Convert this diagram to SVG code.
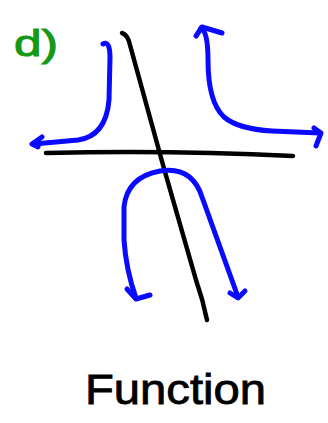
<svg xmlns="http://www.w3.org/2000/svg" width="328" height="423" viewBox="0 0 328 423">
<style>
.blue{fill:none;stroke:#0a0aff;stroke-width:5;stroke-linecap:round;stroke-linejoin:round}
.black{fill:none;stroke:#000;stroke-width:4.5;stroke-linecap:round;stroke-linejoin:round}
.lbl{font-family:"Liberation Sans",Arial,sans-serif}
</style>
<rect width="328" height="423" fill="#fff"/>
<text class="lbl" x="14" y="56" font-size="36" fill="#159915" stroke="#159915" stroke-width="1" textLength="44" lengthAdjust="spacingAndGlyphs">d)</text>
<g id="axes">
<path class="black" d="M46,153 Q170,150 293,156"/>
<path class="black" d="M122,33 Q128,35 130,45 L163,165 L196,280 Q203,300 207,320"/>
</g>
<g id="curves">
<path class="blue" d="M103,44 Q110,40 110,58 L109,100 Q106,136 78,140 L34,144"/>
<path class="blue" d="M42,137 L32,144 L38,147"/>
<path class="blue" d="M201,28 Q208,32 208,60 Q208,102 224,117 Q238,129 272,131 L320,133"/>
<path class="blue" d="M196,36 L202,27 L222,33"/>
<path class="blue" d="M314,128 L321,133 L316,146"/>
<path class="blue" d="M136,298 Q126,270 124,240 L124,207 Q127,177 160,171 Q192,166 202,197 L238,297"/>
<path class="blue" d="M127,289 L136,299 L150,295"/>
<path class="blue" d="M230,293 L238,298 L245,291"/>
</g>
<text class="lbl" x="85" y="404" font-size="42" fill="#000" stroke="#000" stroke-width="0.8" textLength="181" lengthAdjust="spacingAndGlyphs">Function</text>
</svg>
